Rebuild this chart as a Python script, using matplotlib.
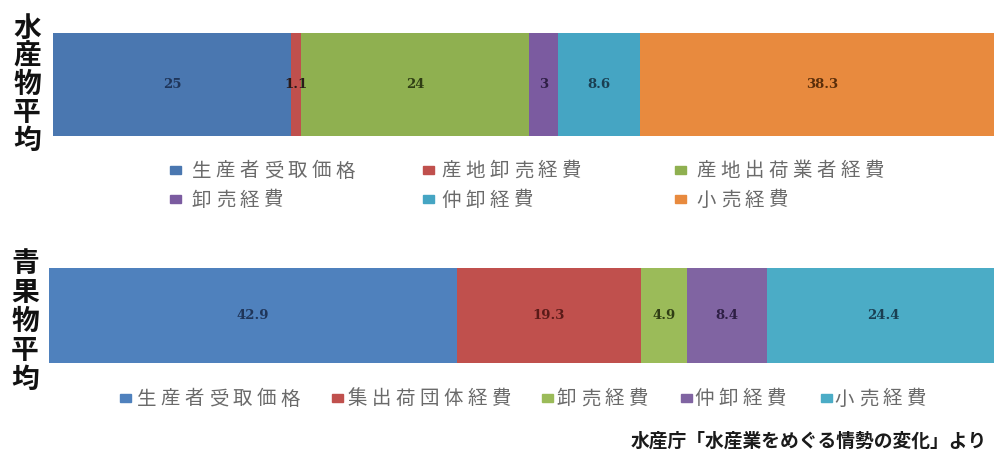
import matplotlib
matplotlib.use("Agg")
import matplotlib.pyplot as plt

plt.rcParams['font.family'] = ['Noto Sans CJK JP', 'DejaVu Sans']

# 水産物 (seafood) distribution cost breakdown, %
sea_labels = ["生産者受取価格", "産地卸売経費", "産地出荷業者経費", "卸売経費", "仲卸経費", "小売経費"]
sea_values = [25, 1.1, 24, 3, 8.6, 38.3]
sea_colors = ["#4A77B0", "#C0504D", "#8FB050", "#7B5BA0", "#45A5C3", "#E88A3E"]
sea_text = ["#1F3559", "#2A1A1A", "#2F3D14", "#2E1F45", "#1A3F52", "#5A2E0A"]

# 青果物 (fruit & vegetables) distribution cost breakdown, %
veg_labels = ["生産者受取価格", "集出荷団体経費", "卸売経費", "仲卸経費", "小売経費"]
veg_values = [42.9, 19.3, 4.9, 8.4, 24.4]
veg_colors = ["#4F81BD", "#C0504D", "#9BBB59", "#8064A2", "#4BACC6"]
veg_text = ["#1F3559", "#5A1A18", "#2F3D14", "#2E1F45", "#1A3F52"]

sea_title = "水産物平均"
veg_title = "青果物平均"
source = "水産庁「水産業をめぐる情勢の変化」より"

W, H = 994, 458
fig = plt.figure(figsize=(W / 100, H / 100), dpi=100)


def px_axes(left, top, right, bottom):
    return fig.add_axes([left / W, 1 - bottom / H, (right - left) / W, (bottom - top) / H])


def stacked(ax, values, colors, tcolors):
    left = 0
    for v, c, tc in zip(values, colors, tcolors):
        ax.barh(0, v, left=left, color=c, height=1.0, edgecolor="none")
        ax.text(left + v / 2, 0, f"{v:g}", ha="center", va="center",
                fontsize=9.5, fontweight="bold", color=tc, family="DejaVu Serif")
        left += v
    ax.set_xlim(0, 100)
    ax.set_ylim(-0.5, 0.5)
    ax.axis("off")


def spaced_text(x, y, s, step, glyph, **kw):
    # lay characters out one by one with a fixed pitch (pixels)
    for i, ch in enumerate(s):
        fig.text((x + i * step + glyph / 2) / W, 1 - y / H, ch,
                 ha="center", va="center", **kw)


def legend_entry(mx, tx, y, lab, c):
    fig.patches.append(plt.Rectangle((mx / W, 1 - (y + 4) / H), 11 / W, 8 / H,
                                     transform=fig.transFigure, color=c))
    spaced_text(tx, y + 1, lab, 24, 19, fontsize=14, color="#6a6a6a")


ax1 = px_axes(53, 33, 1004, 136)
stacked(ax1, sea_values, sea_colors, sea_text)
ax2 = px_axes(49, 268, 1000, 363)
stacked(ax2, veg_values, veg_colors, veg_text)

# vertical stacked titles
for i, ch in enumerate(sea_title):
    fig.text(27 / W, 1 - (29 + i * 28) / H, ch, ha="center", va="center",
             fontsize=20, fontweight="bold", color="#111111")
for i, ch in enumerate(veg_title):
    fig.text(25 / W, 1 - (264 + i * 29) / H, ch, ha="center", va="center",
             fontsize=20, fontweight="bold", color="#111111")

# legends: (marker left, text left, row y)
sea_pos = [(170, 192, 170), (423, 442, 170), (675, 697, 170),
           (170, 192, 199), (423, 442, 199), (675, 697, 199)]
for (mx, tx, y), lab, c in zip(sea_pos, sea_labels, sea_colors):
    legend_entry(mx, tx, y, lab, c)

veg_pos = [(120, 137, 398), (332, 348, 398), (542, 557, 398),
           (681, 695, 398), (821, 835, 398)]
for (mx, tx, y), lab, c in zip(veg_pos, veg_labels, veg_colors):
    legend_entry(mx, tx, y, lab, c)

fig.text(987 / W, 1 - 441 / H, source, ha="right", va="center",
         fontsize=13.5, fontweight="bold", color="#1a1a1a")

fig.savefig("out.png", dpi=100)
